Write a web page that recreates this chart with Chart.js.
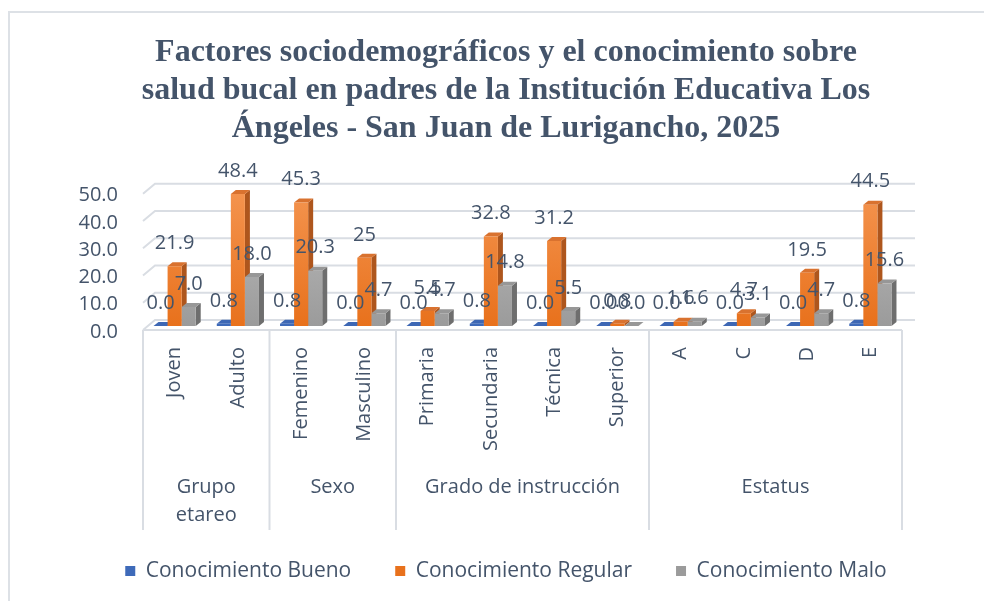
<!DOCTYPE html>
<html>
<head>
<meta charset="utf-8">
<title>Factores sociodemográficos</title>
<script src="https://cdn.jsdelivr.net/npm/chart.js@4.4.1/dist/chart.umd.min.js"></script>
<style>
    html, body { margin: 0; padding: 0; background: #fff; }
    #wrap { width: 984px; height: 601px; position: relative; }
</style>
</head>
<body>
<div id="wrap"><canvas id="chart" width="984" height="601"></canvas></div>
<script>
// ===== DATA =====
const TITLE_LINES = [
    'Factores sociodemográficos y el conocimiento sobre',
    'salud bucal en padres de la Institución Educativa Los',
    'Ángeles - San Juan de Lurigancho, 2025'
];
const CATEGORIES = ['Joven', 'Adulto', 'Femenino', 'Masculino', 'Primaria', 'Secundaria', 'Técnica', 'Superior', 'A', 'C', 'D', 'E'];
const GROUP_NAMES = [['Grupo', 'etareo'], ['Sexo'], ['Grado de instrucción'], ['Estatus']];
const GROUP_SIZES = [2, 2, 4, 4];
const SERIES_NAMES = ['Conocimiento Bueno', 'Conocimiento Regular', 'Conocimiento Malo'];
// values as printed on the chart
const BUENO = ['0.0', '0.8', '0.8', '0.0', '0.0', '0.8', '0.0', '0.0', '0.0', '0.0', '0.0', '0.8'];
const REGULAR = ['21.9', '48.4', '45.3', '25', '5.5', '32.8', '31.2', '0.8', '1.6', '4.7', '19.5', '44.5'];
const MALO = ['7.0', '18.0', '20.3', '4.7', '4.7', '14.8', '5.5', '0.0', '1.6', '3.1', '4.7', '15.6'];
const Y_TICKS = [0, 10, 20, 30, 40, 50];

// ===== STYLE =====
const TEXT_COLOR = '#44546A';
const GRID_COLOR = '#D9DDE3';
const FRONT_TOP = ['#5B8BDA', '#F4944F', '#BDBDBD'];
const FRONT_BOTTOM = ['#3E6AB9', '#E8711C', '#9B9B9B'];
const SIDE = ['#2E5196', '#AE561D', '#6E6E6E'];
const TOP = ['#3D67B4', '#D9722F', '#979797'];
const DEPTH_X = 5, DEPTH_Y = 4;
const FONT = 'Open Sans';

const seriesText = [BUENO, REGULAR, MALO];

function frontFill(d) {
    return (c) => {
        const area = c.chart.chartArea;
        if (!area) return FRONT_BOTTOM[d];
        const g = c.chart.ctx.createLinearGradient(0, area.top, 0, area.bottom);
        g.addColorStop(0, FRONT_TOP[d]);
        g.addColorStop(1, FRONT_BOTTOM[d]);
        return g;
    };
}

// frame + back wall gridlines + 3D faces
const threeDPlugin = {
    id: 'threeD',
    beforeDraw(chart) {
        const { ctx, chartArea } = chart;
        const y = chart.scales.y;
        ctx.save();
        ctx.strokeStyle = '#DDE1E6';
        ctx.lineWidth = 2;
        ctx.strokeRect(9, 12, 1200, 1200);

        ctx.strokeStyle = GRID_COLOR;
        ctx.lineWidth = 2;
        Y_TICKS.forEach(v => {
            const py = y.getPixelForValue(v);
            ctx.beginPath();
            ctx.moveTo(chartArea.left, py + 4);
            ctx.lineTo(chartArea.left + 12, py - 6);
            ctx.lineTo(chartArea.right + 13, py - 6);
            ctx.stroke();
        });
        ctx.restore();
    },
    beforeDatasetsDraw(chart) {
        const ctx = chart.ctx;
        ctx.save();
        for (let i = 0; i < CATEGORIES.length; i++) {
            chart.data.datasets.forEach((ds, d) => {
                const bar = chart.getDatasetMeta(d).data[i];
                const left = bar.x - bar.width / 2;
                const right = bar.x + bar.width / 2;
                const top = bar.y, base = bar.base;
                ctx.fillStyle = SIDE[d];
                ctx.beginPath();
                ctx.moveTo(right, top);
                ctx.lineTo(right + DEPTH_X, top - DEPTH_Y);
                ctx.lineTo(right + DEPTH_X, base - DEPTH_Y);
                ctx.lineTo(right, base);
                ctx.closePath();
                ctx.fill();
                ctx.fillStyle = TOP[d];
                ctx.beginPath();
                ctx.moveTo(left, top);
                ctx.lineTo(left + DEPTH_X, top - DEPTH_Y);
                ctx.lineTo(right + DEPTH_X, top - DEPTH_Y);
                ctx.lineTo(right, top);
                ctx.closePath();
                ctx.fill();
            });
        }
        ctx.restore();
    },
    afterDatasetsDraw(chart) {
        const ctx = chart.ctx;
        ctx.save();
        ctx.font = `20px "${FONT}"`;
        ctx.fillStyle = TEXT_COLOR;
        ctx.textAlign = 'center';
        ctx.textBaseline = 'middle';
        chart.data.datasets.forEach((ds, d) => {
            chart.getDatasetMeta(d).data.forEach((bar, i) => {
                ctx.fillText(seriesText[d][i], bar.x, bar.y - 23);
            });
        });
        ctx.restore();
    },
    afterDraw(chart) {
        // category box and group labels
        const { ctx, chartArea } = chart;
        const x = chart.scales.x;
        const half = (x.getPixelForValue(1) - x.getPixelForValue(0)) / 2;
        const top = chartArea.bottom + 4, bottom = chartArea.bottom + 204;
        ctx.save();
        ctx.strokeStyle = GRID_COLOR;
        ctx.lineWidth = 2;
        ctx.beginPath();
        ctx.moveTo(chartArea.left, top);
        ctx.lineTo(chartArea.right, top);
        ctx.stroke();

        ctx.font = `20px "${FONT}"`;
        ctx.fillStyle = TEXT_COLOR;
        ctx.textAlign = 'center';
        ctx.textBaseline = 'middle';
        let start = 0;
        GROUP_SIZES.forEach((n, g) => {
            const x0 = x.getPixelForValue(start) - half;
            const x1 = x.getPixelForValue(start + n - 1) + half;
            ctx.beginPath();
            ctx.moveTo(x0, top);
            ctx.lineTo(x0, bottom);
            ctx.stroke();
            if (g === GROUP_SIZES.length - 1) {
                ctx.beginPath();
                ctx.moveTo(x1, top);
                ctx.lineTo(x1, bottom);
                ctx.stroke();
            }
            GROUP_NAMES[g].forEach((line, k) => {
                ctx.fillText(line, (x0 + x1) / 2, chartArea.bottom + 161 + k * 28);
            });
            start += n;
        });
        ctx.restore();
    }
};

new Chart(document.getElementById('chart'), {
    type: 'bar',
    data: {
        labels: CATEGORIES,
        datasets: [BUENO, REGULAR, MALO].map((vals, d) => ({
            label: SERIES_NAMES[d],
            data: vals.map(Number),
            backgroundColor: frontFill(d),
            borderWidth: 0,
            categoryPercentage: 0.667,
            barPercentage: 1.0
        }))
    },
    options: {
        responsive: false,
        animation: false,
        layout: { padding: { top: 0, left: 28, right: 0, bottom: 9.5 } },
        plugins: {
            title: {
                display: true,
                text: TITLE_LINES,
                color: TEXT_COLOR,
                font: { family: 'Liberation Serif', size: 32, weight: 'bold', lineHeight: 1.19 },
                padding: { top: 34, bottom: 41.5 }
            },
            legend: {
                position: 'bottom',
                labels: {
                    color: TEXT_COLOR,
                    font: { family: FONT, size: 21 },
                    boxWidth: 10,
                    boxHeight: 10,
                    padding: 44
                }
            },
            tooltip: { enabled: false }
        },
        scales: {
            x: {
                grid: { display: false },
                border: { display: false },
                ticks: {
                    color: TEXT_COLOR,
                    font: { family: FONT, size: 20 },
                    minRotation: 90,
                    maxRotation: 90,
                    autoSkip: false,
                    padding: 13
                },
                afterFit: s => { s.height = 190.5; }
            },
            y: {
                min: 0,
                max: 50,
                grid: { display: false },
                border: { display: false },
                afterBuildTicks: s => { s.ticks = Y_TICKS.map(v => ({ value: v })); },
                ticks: {
                    color: TEXT_COLOR,
                    font: { family: FONT, size: 20 },
                    autoSkip: false,
                    padding: 17,
                    labelOffset: 6,
                    callback: v => v.toFixed(1)
                },
                afterFit: s => { s.width = 115; }
            },
            y2: {
                position: 'right',
                display: true,
                grid: { display: false },
                border: { display: false },
                ticks: { display: false },
                afterFit: s => { s.width = 82; }
            }
        }
    },
    plugins: [threeDPlugin]
});
</script>
</body>
</html>
